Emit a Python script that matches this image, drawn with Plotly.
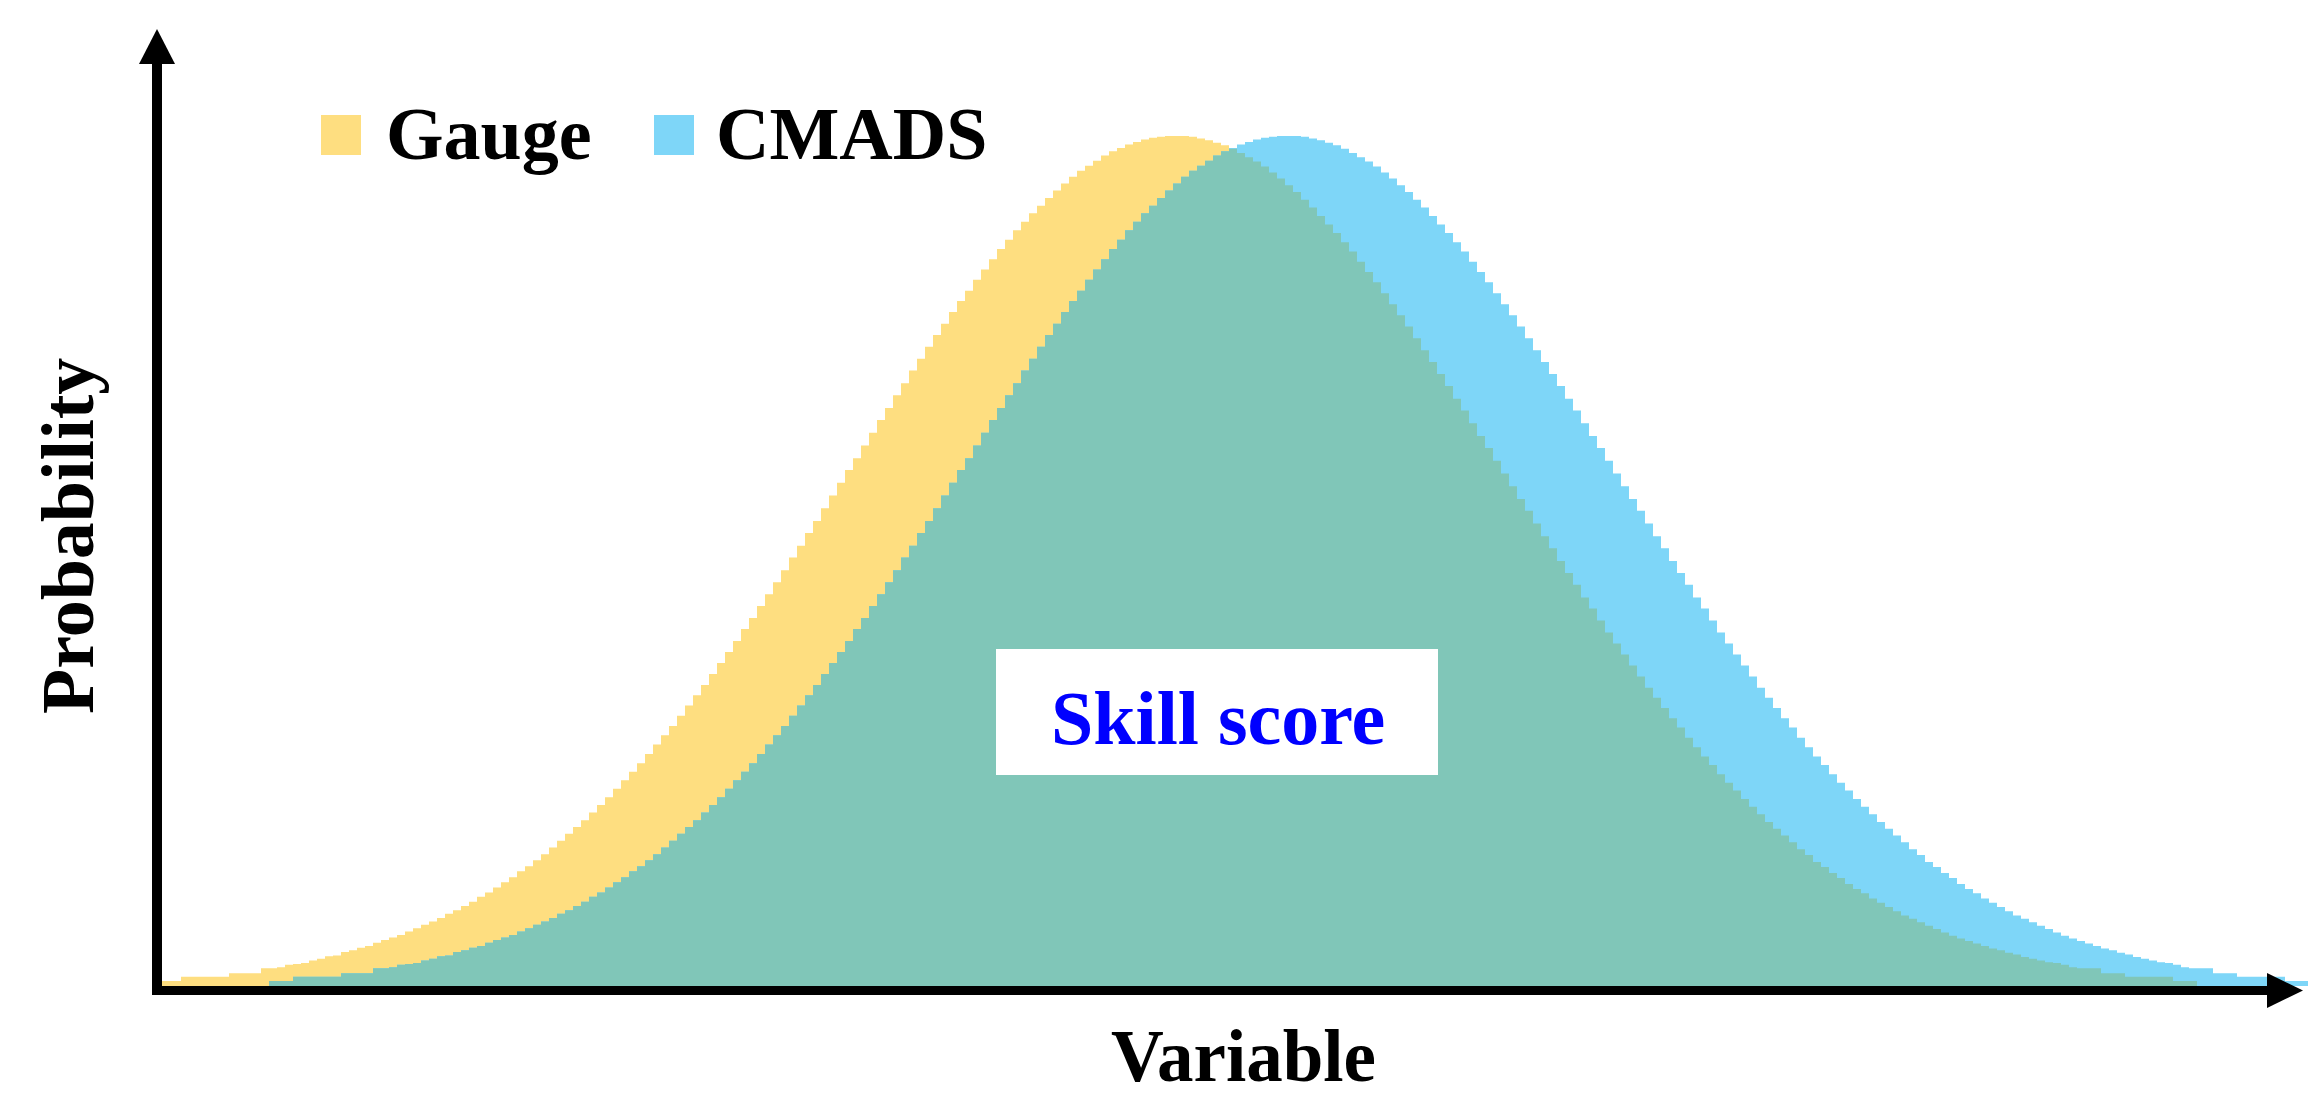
import plotly.graph_objects as go

# Probability per histogram bin (relative units, peak = 100)
gauge = [
    0.6, 0.6, 0.6, 1.1, 1.1, 1.1, 1.1, 1.1, 1.1, 1.5,
    1.5, 1.5, 1.5, 2.1, 2.1, 2.2, 2.5, 2.6, 2.7, 3.0,
    3.2, 3.5, 3.6, 4.0, 4.2, 4.5, 4.7, 5.1, 5.4, 5.7,
    6.0, 6.4, 6.8, 7.2, 7.6, 8.0, 8.5, 8.9, 9.4, 9.9,
    10.5, 11.0, 11.6, 12.2, 12.8, 13.5, 14.1, 14.8, 15.5, 16.3,
    17.1, 17.9, 18.7, 19.5, 20.4, 21.3, 22.2, 23.2, 24.2, 25.2,
    26.2, 27.3, 28.4, 29.5, 30.6, 31.8, 33.0, 34.2, 35.4, 36.7,
    38.0, 39.3, 40.6, 42.0, 43.3, 44.7, 46.1, 47.5, 48.9, 50.4,
    51.8, 53.3, 54.7, 56.2, 57.7, 59.2, 60.7, 62.1, 63.6, 65.1,
    66.6, 68.0, 69.5, 70.9, 72.4, 73.8, 75.2, 76.6, 77.9, 79.3,
    80.6, 81.8, 83.1, 84.3, 85.5, 86.7, 87.8, 88.9, 89.9, 90.9,
    91.8, 92.7, 93.6, 94.4, 95.2, 95.9, 96.5, 97.1, 97.7, 98.2,
    98.6, 99.0, 99.3, 99.6, 99.8, 99.9, 100.0, 100.0, 100.0, 99.9,
    99.7, 99.5, 99.2, 98.9, 98.5, 98.0, 97.5, 97.0, 96.4, 95.7,
    95.0, 94.2, 93.4, 92.5, 91.6, 90.6, 89.6, 88.6, 87.5, 86.4,
    85.2, 84.0, 82.8, 81.5, 80.2, 78.9, 77.6, 76.2, 74.8, 73.4,
    72.0, 70.6, 69.1, 67.7, 66.2, 64.7, 63.3, 61.8, 60.3, 58.8,
    57.3, 55.9, 54.4, 52.9, 51.5, 50.0, 48.6, 47.2, 45.7, 44.4,
    43.0, 41.6, 40.3, 39.0, 37.7, 36.4, 35.1, 33.9, 32.7, 31.5,
    30.4, 29.2, 28.1, 27.0, 26.0, 24.9, 23.9, 23.0, 22.0, 21.1,
    20.2, 19.3, 18.5, 17.7, 16.9, 16.1, 15.4, 14.6, 14.0, 13.3,
    12.7, 12.0, 11.4, 10.9, 10.3, 9.8, 9.3, 8.8, 8.3, 7.9,
    7.5, 7.1, 6.7, 6.3, 5.9, 5.6, 5.3, 5.0, 4.7, 4.4,
    4.2, 3.9, 3.7, 3.4, 3.2, 3.0, 2.8, 2.7, 2.5, 2.2,
    2.1, 2.1, 2.1, 1.5, 1.5, 1.5, 1.1, 1.1, 1.1, 1.1,
    1.1, 1.1, 0.6, 0.6, 0.6, 0, 0, 0, 0, 0,
    0, 0, 0, 0, 0, 0, 0, 0, 0,
]

cmads = [
    0, 0, 0, 0, 0, 0, 0, 0, 0, 0, 0, 0, 0, 0,
    0.6, 0.6, 0.6, 1.1, 1.1, 1.1, 1.1, 1.1, 1.1, 1.5,
    1.5, 1.5, 1.5, 2.1, 2.1, 2.2, 2.5, 2.6, 2.7, 3.0,
    3.2, 3.5, 3.6, 4.0, 4.2, 4.5, 4.7, 5.1, 5.4, 5.7,
    6.0, 6.4, 6.8, 7.2, 7.6, 8.0, 8.5, 8.9, 9.4, 9.9,
    10.5, 11.0, 11.6, 12.2, 12.8, 13.5, 14.1, 14.8, 15.5, 16.3,
    17.1, 17.9, 18.7, 19.5, 20.4, 21.3, 22.2, 23.2, 24.2, 25.2,
    26.2, 27.3, 28.4, 29.5, 30.6, 31.8, 33.0, 34.2, 35.4, 36.7,
    38.0, 39.3, 40.6, 42.0, 43.3, 44.7, 46.1, 47.5, 48.9, 50.4,
    51.8, 53.3, 54.7, 56.2, 57.7, 59.2, 60.7, 62.1, 63.6, 65.1,
    66.6, 68.0, 69.5, 70.9, 72.4, 73.8, 75.2, 76.6, 77.9, 79.3,
    80.6, 81.8, 83.1, 84.3, 85.5, 86.7, 87.8, 88.9, 89.9, 90.9,
    91.8, 92.7, 93.6, 94.4, 95.2, 95.9, 96.5, 97.1, 97.7, 98.2,
    98.6, 99.0, 99.3, 99.6, 99.8, 99.9, 100.0, 100.0, 100.0, 99.9,
    99.7, 99.5, 99.2, 98.9, 98.5, 98.0, 97.5, 97.0, 96.4, 95.7,
    95.0, 94.2, 93.4, 92.5, 91.6, 90.6, 89.6, 88.6, 87.5, 86.4,
    85.2, 84.0, 82.8, 81.5, 80.2, 78.9, 77.6, 76.2, 74.8, 73.4,
    72.0, 70.6, 69.1, 67.7, 66.2, 64.7, 63.3, 61.8, 60.3, 58.8,
    57.3, 55.9, 54.4, 52.9, 51.5, 50.0, 48.6, 47.2, 45.7, 44.4,
    43.0, 41.6, 40.3, 39.0, 37.7, 36.4, 35.1, 33.9, 32.7, 31.5,
    30.4, 29.2, 28.1, 27.0, 26.0, 24.9, 23.9, 23.0, 22.0, 21.1,
    20.2, 19.3, 18.5, 17.7, 16.9, 16.1, 15.4, 14.6, 14.0, 13.3,
    12.7, 12.0, 11.4, 10.9, 10.3, 9.8, 9.3, 8.8, 8.3, 7.9,
    7.5, 7.1, 6.7, 6.3, 5.9, 5.6, 5.3, 5.0, 4.7, 4.4,
    4.2, 3.9, 3.7, 3.4, 3.2, 3.0, 2.8, 2.7, 2.5, 2.2,
    2.1, 2.1, 2.1, 1.5, 1.5, 1.5, 1.1, 1.1, 1.1, 1.1,
    1.1, 1.1, 0.6, 0.6, 0.6,
]

# histogram bin edges of the variable (arbitrary units)
variable_edges = list(range(len(gauge) + 1))

series_names = ['Gauge', 'CMADS']
YELLOW = '#FEDE80'
BLUE = '#7ED6F8'
GREEN = '#80C6B8'
FONT = 'Liberation Serif'

# overlapping part of the two distributions
overlap = [min(a, b) for a, b in zip(gauge, cmads)]

W, H = 2323, 1097
PL, PR, PT, PB = 149, 2300, 21, 982
PX_PER_BIN = 8
PX_PER_UNIT = 8.5


def fx(px):
    return (px - PL) / (PR - PL)


def fy(py):
    return (PB - py) / (PB - PT)


def step_trace(vals, color, name):
    return go.Scatter(
        x=variable_edges, y=vals + [vals[-1]],
        mode='lines', line=dict(width=0, shape='hv'),
        fill='tozeroy', fillcolor=color, name=name,
        showlegend=False, hoverinfo='skip'
    )


fig = go.Figure()
fig.add_trace(step_trace(gauge, YELLOW, series_names[0]))
fig.add_trace(step_trace(cmads, BLUE, series_names[1]))
fig.add_trace(step_trace(overlap, GREEN, 'overlap'))

shapes = [
    # y axis + arrow
    dict(type='line', xref='paper', yref='paper', x0=fx(149), x1=fx(149),
         y0=fy(987), y1=fy(50), line=dict(color='black', width=10)),
    dict(type='path', xref='paper', yref='paper',
         path=f'M{fx(131)},{fy(56)} L{fx(167)},{fy(56)} L{fx(149)},{fy(21)} Z',
         fillcolor='black', line=dict(width=0)),
    # x axis + arrow
    dict(type='line', xref='paper', yref='paper', x0=fx(144), x1=fx(2265),
         y0=fy(982.5), y1=fy(982.5), line=dict(color='black', width=9)),
    dict(type='path', xref='paper', yref='paper',
         path=f'M{fx(2259)},{fy(965)} L{fx(2259)},{fy(1000)} L{fx(2295)},{fy(982.5)} Z',
         fillcolor='black', line=dict(width=0)),
    # legend squares
    dict(type='rect', xref='paper', yref='paper', x0=fx(313), x1=fx(353),
         y0=fy(147), y1=fy(107), fillcolor=YELLOW, line=dict(width=0)),
    dict(type='rect', xref='paper', yref='paper', x0=fx(646), x1=fx(686),
         y0=fy(147), y1=fy(107), fillcolor=BLUE, line=dict(width=0)),
    # skill score box
    dict(type='rect', xref='paper', yref='paper', x0=fx(988), x1=fx(1430),
         y0=fy(767), y1=fy(641), fillcolor='white', line=dict(width=0)),
]

annotations = [
    dict(text='<b>Gauge</b>', x=fx(376), y=fy(126), xanchor='left', yanchor='middle',
         font=dict(size=74, color='black', family=FONT)),
    dict(text='<b>CMADS</b>', x=fx(706), y=fy(126), xanchor='left', yanchor='middle',
         font=dict(size=74, color='black', family=FONT)),
    dict(text='<b>Skill score</b>', x=fx(1210), y=fy(710), xanchor='center', yanchor='middle',
         font=dict(size=76, color='#0000FF', family=FONT)),
    dict(text='<b>Variable</b>', x=fx(1235), y=fy(1048), xanchor='center', yanchor='middle',
         font=dict(size=73, color='black', family=FONT)),
    dict(text='<b>Probability</b>', x=fx(60), y=fy(528), xanchor='center', yanchor='middle',
         textangle=-90, font=dict(size=74, color='black', family=FONT)),
]
for a in annotations:
    a.update(xref='paper', yref='paper', showarrow=False)

fig.update_layout(
    width=W, height=H,
    margin=dict(l=PL, r=W - PR, t=PT, b=H - PB, autoexpand=False),
    paper_bgcolor='white', plot_bgcolor='white',
    xaxis=dict(range=[0, (PR - PL) / PX_PER_BIN], visible=False, fixedrange=True),
    yaxis=dict(range=[-4 / PX_PER_UNIT, (978 - PT) / PX_PER_UNIT], visible=False, fixedrange=True),
    shapes=shapes, annotations=annotations,
    showlegend=False
)

fig.write_html("out.html")
